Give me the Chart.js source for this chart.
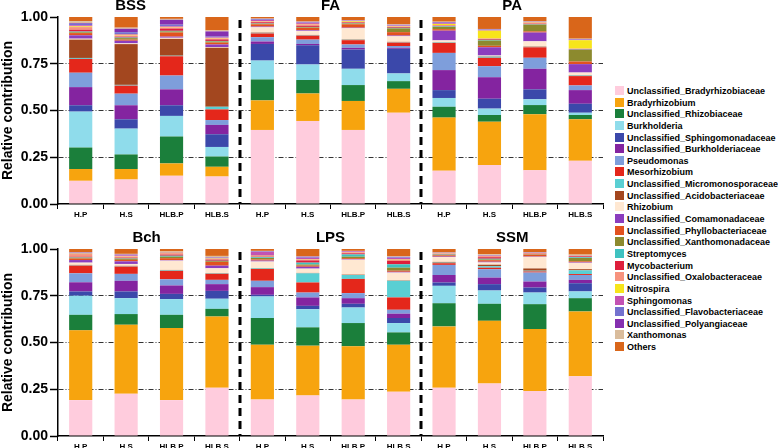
<!DOCTYPE html>
<html>
<head>
<meta charset="utf-8">
<script src="https://cdn.jsdelivr.net/npm/chart.js@4"></script>
<style>
  body { margin: 0; background: #fff; width: 778px; height: 448px; position: relative; overflow: hidden;
         font-family: "Liberation Sans", Arial, sans-serif; }
  .panel { position: absolute; left: 0; width: 606px; height: 230px; }
  #legend { position: absolute; left: 615px; top: 86px; font-weight: bold; font-size: 9px; color: #000; }
  #legend div { height: 11.65px; line-height: 11.65px; white-space: nowrap; }
  #legend span { display: inline-block; width: 9px; height: 9px; margin-right: 3px; vertical-align: -1px; }
</style>
</head>
<body>
<div class="panel" style="top:0"><canvas id="top"></canvas></div>
<div class="panel" style="top:218px"><canvas id="bottom"></canvas></div>
<div id="legend"></div>
<script>
const taxa = ['Unclassified_Bradyrhizobiaceae', 'Bradyrhizobium', 'Unclassified_Rhizobiaceae', 'Burkholderia',
  'Unclassified_Sphingomonadaceae', 'Unclassified_Burkholderiaceae', 'Pseudomonas', 'Mesorhizobium',
  'Unclassified_Micromonosporaceae', 'Unclassified_Acidobacteriaceae', 'Rhizobium', 'Unclassified_Comamonadaceae',
  'Unclassified_Phyllobacteriaceae', 'Unclassified_Xanthomonadaceae', 'Streptomyces', 'Mycobacterium',
  'Unclassified_Oxalobacteraceae', 'Nitrospira', 'Sphingomonas', 'Unclassified_Flavobacteriaceae',
  'Unclassified_Polyangiaceae', 'Xanthomonas', 'Others'];
const colors = ['#FFCCDD', '#F7A40E', '#1B7F3B', '#8FDCEB', '#3B48AA', '#8424A0', '#7E9EDB', '#E4271B',
  '#5ACFD3', '#A3471F', '#FFE8D2', '#8B3DBE', '#E2521F', '#8C8A2E', '#3FC2C0', '#DE1F3C',
  '#F7937E', '#F7E51B', '#C352B3', '#7472CF', '#8530B0', '#D9BC9C', '#D9661A'];

const samples = ['H.P', 'H.S', 'HLB.P', 'HLB.S'];
const topGroups = ['BSS', 'FA', 'PA'];
const bottomGroups = ['Bch', 'LPS', 'SSM'];
const yTicks = [0, 0.25, 0.5, 0.75, 1];

// relative contribution of each taxon (same order as taxa), one array per bar
const BSS_HP   = [0.124,0.063,0.115,0.192,0.034,0.097,0.077,0.074,0.005,0.098,0.005,0.018,0.012,0.004,0.004,0.010,0.014,0.004,0.006,0.008,0.004,0.010,0.022];
const BSS_HS   = [0.131,0.056,0.078,0.138,0.050,0.075,0.062,0.043,0.004,0.218,0.004,0.014,0.006,0.008,0.003,0.005,0.006,0.004,0.004,0.010,0.018,0.006,0.057];
const BSS_HLBP = [0.151,0.066,0.144,0.110,0.057,0.085,0.074,0.103,0.003,0.090,0.006,0.006,0.022,0.006,0.003,0.012,0.006,0.003,0.004,0.008,0.026,0.005,0.010];
const BSS_HLBS = [0.147,0.052,0.055,0.051,0.068,0.050,0.026,0.057,0.014,0.315,0.004,0.014,0.010,0.006,0.003,0.008,0.005,0.003,0.003,0.004,0.028,0.005,0.072];
const FA_HP    = [0.396,0.158,0.112,0.101,0.089,0.013,0.023,0.020,0.003,0.002,0.028,0.004,0.012,0.003,0.002,0.006,0.004,0.002,0.006,0.004,0.002,0.002,0.008];
const FA_HS    = [0.444,0.147,0.072,0.083,0.103,0.007,0.023,0.021,0.002,0.002,0.022,0.004,0.012,0.003,0.002,0.006,0.008,0.002,0.006,0.003,0.002,0.002,0.024];
const FA_HLBP  = [0.396,0.155,0.085,0.087,0.103,0.009,0.018,0.023,0.002,0.002,0.060,0.003,0.018,0.004,0.002,0.004,0.003,0.004,0.002,0.001,0.001,0.002,0.016];
const FA_HLBS  = [0.488,0.128,0.041,0.041,0.132,0.005,0.010,0.018,0.002,0.002,0.030,0.004,0.018,0.020,0.003,0.004,0.003,0.003,0.002,0.002,0.002,0.004,0.038];
const PA_HP    = [0.178,0.284,0.058,0.047,0.042,0.107,0.092,0.053,0.002,0.002,0.010,0.052,0.008,0.012,0.003,0.003,0.004,0.006,0.004,0.003,0.003,0.002,0.025];
const PA_HS    = [0.208,0.232,0.036,0.034,0.053,0.115,0.059,0.045,0.006,0.002,0.004,0.044,0.008,0.028,0.004,0.004,0.003,0.042,0.003,0.002,0.002,0.002,0.064];
const PA_HLBP  = [0.181,0.299,0.049,0.031,0.053,0.110,0.059,0.056,0.002,0.002,0.028,0.047,0.006,0.036,0.002,0.003,0.005,0.002,0.002,0.001,0.001,0.003,0.022];
const PA_HLBS  = [0.231,0.222,0.023,0.012,0.048,0.073,0.025,0.050,0.003,0.002,0.014,0.045,0.014,0.062,0.002,0.003,0.002,0.045,0.002,0.002,0.002,0.002,0.116];
const BCH_HP   = [0.192,0.373,0.083,0.102,0.023,0.049,0.048,0.041,0.002,0.002,0.012,0.014,0.008,0.004,0.002,0.004,0.014,0.002,0.002,0.002,0.002,0.003,0.016];
const BCH_HS   = [0.226,0.369,0.057,0.085,0.036,0.057,0.037,0.039,0.002,0.002,0.010,0.014,0.008,0.006,0.002,0.004,0.006,0.002,0.004,0.002,0.002,0.004,0.026];
const BCH_HLBP = [0.192,0.385,0.071,0.084,0.028,0.045,0.033,0.045,0.003,0.002,0.050,0.003,0.010,0.008,0.005,0.006,0.008,0.002,0.002,0.001,0.001,0.003,0.013];
const BCH_HLBS = [0.258,0.381,0.041,0.054,0.042,0.036,0.023,0.032,0.002,0.002,0.026,0.014,0.020,0.004,0.002,0.006,0.004,0.002,0.002,0.002,0.002,0.008,0.037];
const LPS_HP   = [0.195,0.293,0.143,0.115,0.009,0.041,0.034,0.063,0.003,0.002,0.035,0.005,0.006,0.008,0.004,0.003,0.003,0.002,0.020,0.002,0.002,0.002,0.010];
const LPS_HS   = [0.217,0.266,0.098,0.097,0.018,0.045,0.026,0.054,0.049,0.002,0.023,0.010,0.006,0.006,0.010,0.012,0.004,0.002,0.008,0.004,0.002,0.002,0.039];
const LPS_HLBP = [0.195,0.285,0.124,0.083,0.020,0.030,0.027,0.076,0.021,0.002,0.080,0.003,0.005,0.008,0.012,0.006,0.005,0.001,0.004,0.001,0.001,0.001,0.010];
const LPS_HLBS = [0.236,0.252,0.066,0.050,0.027,0.023,0.021,0.066,0.089,0.002,0.042,0.004,0.006,0.016,0.018,0.018,0.006,0.002,0.008,0.003,0.003,0.004,0.038];
const SSM_HP   = [0.258,0.328,0.124,0.093,0.018,0.040,0.054,0.009,0.003,0.004,0.026,0.003,0.006,0.003,0.002,0.002,0.003,0.001,0.001,0.001,0.001,0.002,0.018];
const SSM_HS   = [0.281,0.335,0.091,0.071,0.034,0.035,0.045,0.008,0.008,0.008,0.012,0.004,0.008,0.004,0.004,0.008,0.006,0.001,0.002,0.002,0.001,0.004,0.028];
const SSM_HLBP = [0.240,0.332,0.133,0.062,0.027,0.032,0.048,0.006,0.004,0.012,0.062,0.002,0.010,0.002,0.001,0.002,0.002,0.001,0.001,0.001,0.001,0.002,0.017];
const SSM_HLBS = [0.320,0.346,0.071,0.036,0.044,0.018,0.026,0.005,0.020,0.006,0.034,0.003,0.005,0.018,0.004,0.005,0.002,0.001,0.001,0.001,0.001,0.003,0.030];

const topBars = [BSS_HP, BSS_HS, BSS_HLBP, BSS_HLBS, FA_HP, FA_HS, FA_HLBP, FA_HLBS, PA_HP, PA_HS, PA_HLBP, PA_HLBS];
const bottomBars = [BCH_HP, BCH_HS, BCH_HLBP, BCH_HLBS, LPS_HP, LPS_HS, LPS_HLBP, LPS_HLBS, SSM_HP, SSM_HS, SSM_HLBP, SSM_HLBS];

const FONT = '"Liberation Sans", Arial, sans-serif';

// dashed separators between groups + group titles
const groupDecor = {
  id: 'groupDecor',
  afterDatasetsDraw(chart, args, opts) {
    const { ctx, chartArea, scales: { x } } = chart;
    ctx.save();
    ctx.strokeStyle = '#000';
    ctx.lineWidth = 3;
    ctx.setLineDash([8, 5]);
    [3.5, 7.5].forEach(v => {
      const px = Math.round(x.getPixelForValue(v));
      ctx.beginPath();
      ctx.moveTo(px, chartArea.top + 3);
      ctx.lineTo(px, chartArea.bottom);
      ctx.stroke();
    });
    ctx.setLineDash([]);
    ctx.fillStyle = '#000';
    ctx.font = 'bold 15px ' + FONT;
    ctx.textAlign = 'center';
    ctx.textBaseline = 'middle';
    opts.titles.forEach((t, i) => {
      ctx.fillText(t, x.getPixelForValue(opts.titlePos[i]), chartArea.top - 11);
    });
    ctx.restore();
  }
};

function makePanel(id, groups, bars, titlePos, padTop, xHeight) {
  const labels = [];
  groups.forEach(() => samples.forEach(s => labels.push(s)));
  const datasets = taxa.map((name, k) => ({
    label: name,
    data: bars.map(b => b[k]),
    backgroundColor: colors[k],
    borderWidth: 0,
    barPercentage: 0.51,
    categoryPercentage: 1
  }));
  return new Chart(document.getElementById(id), {
    type: 'bar',
    data: { labels, datasets },
    plugins: [groupDecor],
    options: {
      responsive: false,
      animation: false,
      devicePixelRatio: 1,
      layout: { padding: { top: padTop, right: 3, left: 0, bottom: 0 } },
      plugins: {
        legend: { display: false },
        tooltip: { enabled: false },
        groupDecor: { titles: groups, titlePos }
      },
      scales: {
        x: {
          stacked: true,
          afterFit: s => { s.height = xHeight; },
          border: { color: '#000', width: 1.5 },
          grid: { offset: true, drawOnChartArea: false, drawTicks: true, tickLength: 5, tickColor: '#000', tickWidth: 1 },
          ticks: { autoSkip: false, maxRotation: 0, padding: 1, color: '#000', font: { family: FONT, size: 8, weight: 'bold' } }
        },
        y: {
          stacked: true,
          min: 0,
          max: 1,
          afterFit: s => { s.width = 58; },
          afterBuildTicks: s => { s.ticks = yTicks.map(v => ({ value: v })); },
          border: { color: '#000', width: 1.5, dash: [5, 2, 1, 2] },
          grid: {
            color: c => (c.tick && c.tick.value > 0 && c.tick.value < 1) ? '#333' : 'rgba(0,0,0,0)',
            lineWidth: 1,
            tickLength: 8,
            tickColor: '#000',
            tickWidth: 1.5,
            tickBorderDash: []
          },
          ticks: { padding: 2, color: '#000', callback: v => v.toFixed(2), font: { family: FONT, size: 14, weight: 'bold' } },
          title: { display: true, text: 'Relative contribution', color: '#000', padding: 0, font: { family: FONT, size: 14, weight: 'bold' } }
        }
      }
    }
  });
}

document.getElementById('top').width = 606;
document.getElementById('top').height = 230;
document.getElementById('bottom').width = 606;
document.getElementById('bottom').height = 230;

makePanel('top', topGroups, topBars, [1.1, 5.5, 9.5], 17, 26);
makePanel('bottom', bottomGroups, bottomBars, [1.45, 5.5, 9.5], 31, 12);

const legend = document.getElementById('legend');
taxa.forEach((name, k) => {
  const row = document.createElement('div');
  row.innerHTML = `<span style="background:${colors[k]}"></span>${name}`;
  legend.appendChild(row);
});
</script>
</body>
</html>
